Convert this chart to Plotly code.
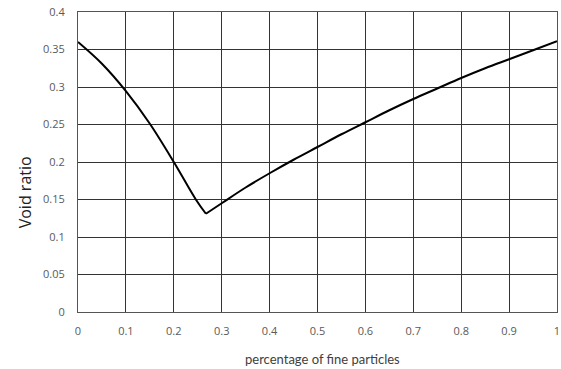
import plotly.graph_objects as go

# Left branch (decreasing) and right branch (increasing) of void ratio curve
x_left = [0.0, 0.05, 0.1, 0.15, 0.2, 0.246, 0.267]
y_left = [0.360, 0.331, 0.2945, 0.251, 0.200, 0.150, 0.131]
x_right = [0.267, 0.3, 0.35, 0.4, 0.45, 0.5, 0.55, 0.6, 0.65, 0.7, 0.75, 0.8, 0.85, 0.9, 0.95, 1.0]
y_right = [0.131, 0.145, 0.166, 0.185, 0.203, 0.220, 0.237, 0.253, 0.269, 0.284, 0.298, 0.312, 0.325, 0.337, 0.349, 0.361]

x_ticks = [0, 0.1, 0.2, 0.3, 0.4, 0.5, 0.6, 0.7, 0.8, 0.9, 1]
x_labels = ["0", "0.1", "0.2", "0.3", "0.4", "0.5", "0.6", "0.7", "0.8", "0.9", "1"]
y_ticks = [0, 0.05, 0.1, 0.15, 0.2, 0.25, 0.3, 0.35, 0.4]
y_labels = ["0", "0.05", "0.1", "0.15", "0.2", "0.25", "0.3", "0.35", "0.4"]

fig = go.Figure()
for xs, ys in [(x_left, y_left), (x_right, y_right)]:
    fig.add_trace(go.Scatter(x=xs, y=ys, mode="lines",
                             line=dict(color="black", width=2, shape="spline", smoothing=1),
                             showlegend=False, hoverinfo="skip"))

tick_font = dict(family="Open Sans, sans-serif", size=11, color="#595959")
fig.update_xaxes(range=[0, 1], tickvals=x_ticks, ticktext=x_labels, showgrid=True,
                 gridcolor="#333333", gridwidth=1, zeroline=False, showline=True,
                 linecolor="#555555", linewidth=1, mirror=True, ticks="",
                 tickfont=tick_font, ticklabelstandoff=9, ticklabeloverflow="allow")
fig.update_yaxes(range=[0, 0.4], tickvals=y_ticks, ticktext=y_labels, showgrid=True,
                 gridcolor="#333333", gridwidth=1, zeroline=False, showline=True,
                 linecolor="#555555", linewidth=1, mirror=True, ticks="",
                 tickfont=tick_font, ticklabelstandoff=10)

fig.add_annotation(text="percentage of fine particles", xref="paper", yref="paper",
                   x=0.51, y=-0.155, yanchor="middle", showarrow=False,
                   font=dict(family="Lato, sans-serif", size=13, color="#404040"))
fig.add_annotation(text="Void ratio", xref="paper", yref="paper",
                   x=-0.11, y=0.40, xanchor="center", yanchor="middle", textangle=-90,
                   showarrow=False, font=dict(family="Open Sans, sans-serif", size=16, color="#222222"))

fig.update_layout(width=561, height=369, margin=dict(l=78, r=1, t=12, b=57),
                  plot_bgcolor="white", paper_bgcolor="white")
fig.write_html("out.html")
